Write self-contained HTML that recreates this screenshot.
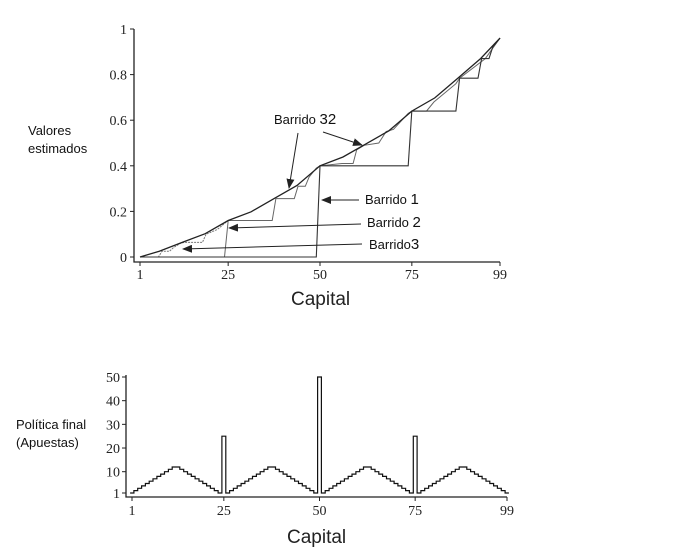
<!DOCTYPE html>
<html><head><meta charset="utf-8">
<style>
body{margin:0;background:#fff;}
svg{display:block;}
.tk{font-family:"Liberation Serif",serif;font-size:14px;fill:#222;}
.lab{font-family:"Liberation Sans",sans-serif;font-size:13px;fill:#111;}
.cap{font-family:"Liberation Sans",sans-serif;font-size:19px;fill:#222;}
</style></head>
<body>
<svg id="chart" width="698" height="555" viewBox="0 0 698 555" xmlns="http://www.w3.org/2000/svg">
<defs><marker id="ah" markerWidth="10" markerHeight="8" refX="9" refY="4" orient="auto" markerUnits="userSpaceOnUse"><path d="M0,0 L10,4 L0,8 z" fill="#222"/></marker></defs>
<g id="topchart"></g>
<g id="botchart"></g>
<text class="lab" x="28" y="135">Valores</text>
<text class="lab" x="28" y="153">estimados</text>
<text class="lab" x="16" y="429">Política final</text>
<text class="lab" x="16" y="447">(Apuestas)</text>
<text class="cap" x="291" y="305">Capital</text>
<text class="cap" x="287" y="543">Capital</text>
<text class="lab" x="274" y="124">Barrido <tspan font-size="15">32</tspan></text>
<text class="lab" x="365" y="204">Barrido <tspan font-size="15">1</tspan></text>
<text class="lab" x="367" y="227">Barrido <tspan font-size="15">2</tspan></text>
<text class="lab" x="369" y="249">Barrido<tspan font-size="15">3</tspan></text>
<g stroke="#222" stroke-width="1" marker-end="url(#ah)">
<line x1="298" y1="133" x2="289" y2="188"/>
<line x1="323" y1="132" x2="362" y2="145"/>
<line x1="359" y1="200" x2="322" y2="200"/>
<line x1="361" y1="224" x2="229" y2="228"/>
<line x1="362" y1="244" x2="183" y2="249"/>
</g>
</svg>
<script>
const valTicks=[0,0.2,0.4,0.6,0.8,1];
const valTickLabels=["0","0.2","0.4","0.6","0.8","1"];
const capTicks=[1,25,50,75,99];
const finalCap=[1,6.25,12.5,18.75,25,31.25,37.5,43.75,50,56.25,62.5,68.75,75,81.25,87.5,93.75,99];
const finalVal=[0,0.0256,0.064,0.1024,0.16,0.1984,0.256,0.3136,0.4,0.4384,0.496,0.5536,0.64,0.6976,0.784,0.8704,0.96];
const sweep1Cap=[1,49,50,74,75,87,88,93,94,96,97,99];
const sweep1Val=[0,0,0.4,0.4,0.64,0.64,0.784,0.784,0.87,0.87,0.92,0.96];
const sweep2Cap=[1,24,25,37,38,43,44,46,47,49,50,56,59,60,62,66,68,70,74,75,79,81,87,88,95,99];
const sweep2Val=[0,0,0.16,0.16,0.256,0.256,0.31,0.31,0.35,0.39,0.4,0.41,0.41,0.47,0.49,0.5,0.55,0.56,0.63,0.64,0.64,0.68,0.76,0.784,0.87,0.96];
const sweep3Cap=[1,6,7,9,10,12,13,18,19,22,25];
const sweep3Val=[0,0,0.025,0.025,0.04,0.06,0.064,0.064,0.1,0.12,0.16];
const polTicks=[1,10,20,30,40,50];
const policy=[1,2,3,4,5,6,7,8,9,10,11,12,12,11,10,9,8,7,6,5,4,3,2,1,25,1,2,3,4,5,6,7,8,9,10,11,12,12,11,10,9,8,7,6,5,4,3,2,1,50,1,2,3,4,5,6,7,8,9,10,11,12,12,11,10,9,8,7,6,5,4,3,2,1,25,1,2,3,4,5,6,7,8,9,10,11,12,12,11,10,9,8,7,6,5,4,3,2,1];
const NS="http://www.w3.org/2000/svg";
function mk(p,t,a){const e=document.createElementNS(NS,t);for(const k in a)e.setAttribute(k,a[k]);p.appendChild(e);return e;}
const tx=c=>140+(c-1)*(500-140)/98, ty=v=>257-v*(257-29);
const topG=document.getElementById('topchart');
let ax=mk(topG,'path',{d:'M134,29 V262 H500',fill:'none',stroke:'#222','stroke-width':1.3});


valTicks.forEach((v,i)=>{
  let l=mk(topG,'line',{x1:130,x2:134,y1:ty(v),y2:ty(v),stroke:'#222'});
  
  
  let t=mk(topG,'text',{x:127,y:ty(v)+5,'text-anchor':'end',class:'tk'});t.textContent=valTickLabels[i];
  
  
});
capTicks.forEach(c=>{
  let l=mk(topG,'line',{x1:tx(c),x2:tx(c),y1:262,y2:266,stroke:'#222'});
  
  
  let t=mk(topG,'text',{x:tx(c),y:279,'text-anchor':'middle',class:'tk'});t.textContent=c;
  
  
});
function line(g,cs,vs,st,name){
  let d=cs.map((c,i)=>(i?'L':'M')+tx(c).toFixed(1)+','+ty(vs[i]).toFixed(1)).join(' ');
  let p=mk(g,'path',Object.assign({d:d,fill:'none'},st));
  
  
}
line(topG,sweep3Cap,sweep3Val,{stroke:'#777','stroke-width':1,'stroke-dasharray':'2,1'},'sweep-3-line');
line(topG,sweep2Cap,sweep2Val,{stroke:'#666','stroke-width':1},'sweep-2-line');
line(topG,sweep1Cap,sweep1Val,{stroke:'#333','stroke-width':1.1},'sweep-1-line');
line(topG,finalCap,finalVal,{stroke:'#222','stroke-width':1.3},'sweep-32-line');
const bx=c=>132+(c-1)*(507-132)/98, by=v=>493-(v-1)*(493-377)/49;
const botG=document.getElementById('botchart');
let ax2=mk(botG,'path',{d:'M126,375 V497 H507',fill:'none',stroke:'#222','stroke-width':1.3});


polTicks.forEach(v=>{
  let l=mk(botG,'line',{x1:122,x2:126,y1:by(v),y2:by(v),stroke:'#222'});
  
  
  let t=mk(botG,'text',{x:120,y:by(v)+5,'text-anchor':'end',class:'tk'});t.textContent=v;
  
  
});
capTicks.forEach(c=>{
  let l=mk(botG,'line',{x1:bx(c),x2:bx(c),y1:497,y2:501,stroke:'#222'});
  
  
  let t=mk(botG,'text',{x:bx(c),y:515,'text-anchor':'middle',class:'tk'});t.textContent=c;
  
  
});
let d='';
policy.forEach((v,i)=>{const c=i+1;const x0=bx(c-0.5),x1=bx(c+0.5),y=by(v).toFixed(1);
  d+=(i?'L':'M')+x0.toFixed(1)+','+y+' L'+x1.toFixed(1)+','+y+' ';});
let pp=mk(botG,'path',{d:d,fill:'none',stroke:'#111','stroke-width':1.2});


</script>
</body></html>
